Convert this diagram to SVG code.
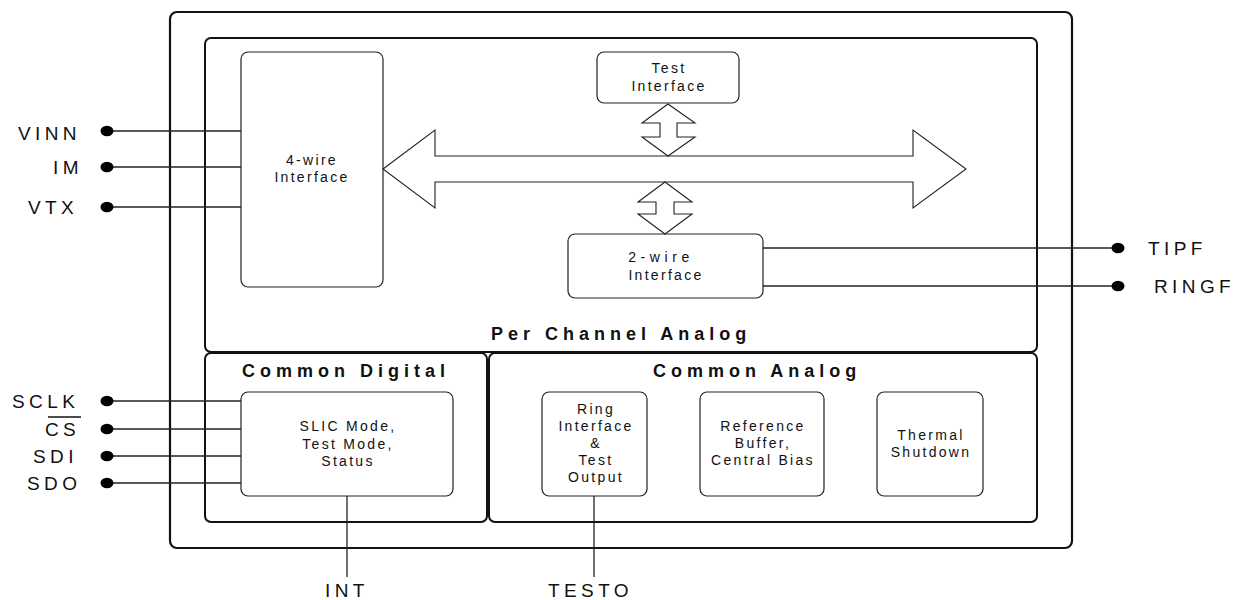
<svg xmlns="http://www.w3.org/2000/svg" width="1243" height="600" viewBox="0 0 1243 600">
<style>
.frame{fill:none;stroke:#111;stroke-width:2.2}
.sect{fill:none;stroke:#111;stroke-width:2}
.blk{fill:#fff;stroke:#222;stroke-width:1.2}
.arw{fill:#fff;stroke:#222;stroke-width:1.1}
.wire{stroke:#222;stroke-width:1.3;fill:none}
.dot{fill:#000}
.t{font-family:"Liberation Sans",Arial,sans-serif;font-size:14px;letter-spacing:2.3px;fill:#111;text-anchor:middle}
.h{font-family:"Liberation Sans",Arial,sans-serif;font-size:18px;font-weight:bold;letter-spacing:5px;fill:#111}
.pin{font-family:"Liberation Sans",Arial,sans-serif;font-size:19px;letter-spacing:4.4px;fill:#111}
</style>
<rect width="1243" height="600" fill="#fff"/>
<g id="outer"><rect class="frame" x="170" y="12" width="902" height="536" rx="7"/></g>
<g id="per-channel-analog">
<rect class="sect" x="205" y="38" width="832" height="314" rx="6"/>
<text class="h" x="491" y="340">Per Channel Analog</text>
</g>
<g id="common-digital">
<rect class="sect" x="205" y="353" width="282" height="169" rx="6"/>
<text class="h" x="242" y="377">Common Digital</text>
</g>
<g id="common-analog">
<rect class="sect" x="489" y="353" width="548" height="169" rx="6"/>
<text class="h" x="653" y="377">Common Analog</text>
</g>
<g id="four-wire">
<rect class="blk" x="241" y="52" width="142" height="235" rx="7"/>
<text class="t" x="312" y="165">4-wire</text>
<text class="t" x="312" y="182">Interface</text>
</g>
<g id="test-interface">
<rect class="blk" x="597" y="52" width="142" height="51" rx="7"/>
<text class="t" x="669" y="73">Test</text>
<text class="t" x="669" y="91">Interface</text>
</g>
<g id="two-wire">
<rect class="blk" x="568" y="234" width="195" height="64" rx="7"/>
<text class="t" x="661" y="262" style="letter-spacing:4.6px">2-wire</text>
<text class="t" x="666" y="280">Interface</text>
</g>
<g id="slic">
<rect class="blk" x="241" y="392" width="212" height="104" rx="7"/>
<text class="t" x="348" y="431">SLIC Mode,</text>
<text class="t" x="348" y="449">Test Mode,</text>
<text class="t" x="348" y="466">Status</text>
</g>
<g id="ring-interface">
<rect class="blk" x="542" y="392" width="105" height="104" rx="7"/>
<text class="t" x="596" y="414">Ring</text>
<text class="t" x="596" y="431">Interface</text>
<text class="t" x="596" y="448">&amp;</text>
<text class="t" x="596" y="465">Test</text>
<text class="t" x="596" y="482">Output</text>
</g>
<g id="reference">
<rect class="blk" x="700" y="392" width="124" height="104" rx="7"/>
<text class="t" x="763" y="431">Reference</text>
<text class="t" x="763" y="448">Buffer,</text>
<text class="t" x="763" y="465">Central Bias</text>
</g>
<g id="thermal">
<rect class="blk" x="877" y="392" width="106" height="104" rx="7"/>
<text class="t" x="931" y="440">Thermal</text>
<text class="t" x="931" y="457">Shutdown</text>
</g>
<g id="bus">
<polygon class="arw" points="383,169 435,130 435,156 913,156 913,130 966,169 913,208 913,182 435,182 435,208"/>
</g>
<g id="connectors">
<polygon class="arw" points="668,104 695,123 677,123 677,137 695,137 668,156 642,137 660,137 660,123 642,123"/>
<polygon class="arw" points="665,182 692,202 674,202 674,214 692,214 665,234 638,214 656,214 656,202 638,202"/>
<line class="wire" x1="107" y1="131" x2="241" y2="131"/>
<line class="wire" x1="107" y1="167" x2="241" y2="167"/>
<line class="wire" x1="107" y1="207" x2="241" y2="207"/>
<line class="wire" x1="107" y1="401" x2="241" y2="401"/>
<line class="wire" x1="107" y1="429" x2="241" y2="429"/>
<line class="wire" x1="107" y1="456" x2="241" y2="456"/>
<line class="wire" x1="107" y1="483" x2="241" y2="483"/>
<line class="wire" x1="763" y1="248" x2="1118" y2="248"/>
<line class="wire" x1="763" y1="286" x2="1118" y2="286"/>
<line class="wire" x1="347" y1="496" x2="347" y2="577"/>
<line class="wire" x1="594" y1="496" x2="594" y2="577"/>
<ellipse class="dot" cx="107" cy="131" rx="6.5" ry="5.3"/>
<ellipse class="dot" cx="107" cy="167" rx="6.5" ry="5.3"/>
<ellipse class="dot" cx="107" cy="207" rx="6.5" ry="5.3"/>
<ellipse class="dot" cx="107" cy="401" rx="6.5" ry="5.3"/>
<ellipse class="dot" cx="107" cy="429" rx="6.5" ry="5.3"/>
<ellipse class="dot" cx="107" cy="456" rx="6.5" ry="5.3"/>
<ellipse class="dot" cx="107" cy="483" rx="6.5" ry="5.3"/>
<ellipse class="dot" cx="1118" cy="248" rx="6.5" ry="5.3"/>
<ellipse class="dot" cx="1118" cy="286" rx="6.5" ry="5.3"/>
</g>
<g id="pins">
<text class="pin" x="18" y="140">VINN</text>
<text class="pin" x="53" y="174">IM</text>
<text class="pin" x="28" y="214">VTX</text>
<text class="pin" x="12" y="408">SCLK</text>
<text class="pin" x="45" y="436">CS</text>
<line x1="48" y1="417" x2="81" y2="417" stroke="#111" stroke-width="1.3"/>
<text class="pin" x="33" y="463">SDI</text>
<text class="pin" x="27" y="490">SDO</text>
<text class="pin" x="1148" y="255">TIPF</text>
<text class="pin" x="1154" y="293">RINGF</text>
<text class="pin" x="325" y="597">INT</text>
<text class="pin" x="548" y="597">TESTO</text>
</g>
</svg>
